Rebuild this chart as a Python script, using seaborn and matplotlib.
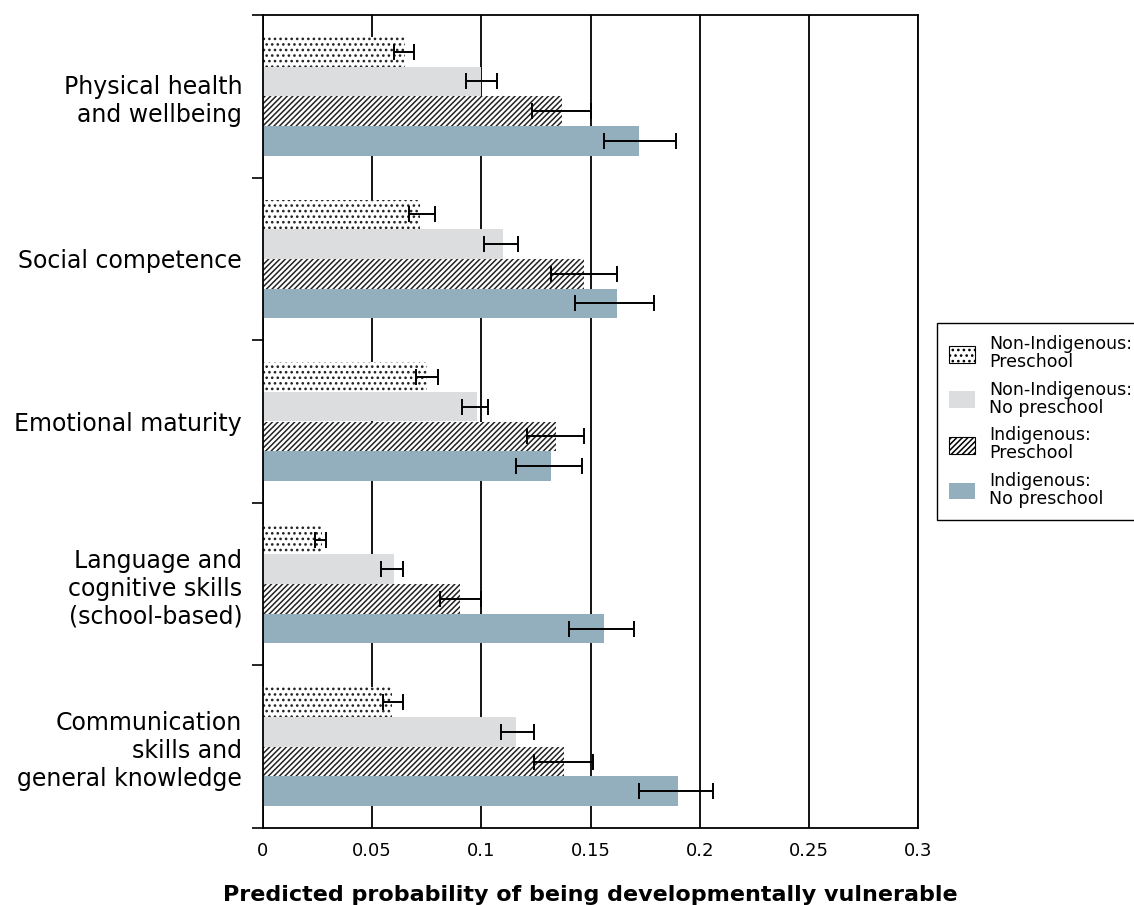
import numpy as np
import pandas as pd
import matplotlib
matplotlib.use("Agg")
import matplotlib.pyplot as plt
import seaborn as sns
from matplotlib.patches import Patch
from matplotlib.ticker import FixedLocator

# ---- data ----
dominios = [
    "Physical health\nand wellbeing",
    "Social competence",
    "Emotional maturity",
    "Language and\ncognitive skills\n(school-based)",
    "Communication\nskills and\ngeneral knowledge",
]
grupos = [
    "Non-Indigenous:\nPreschool",
    "Non-Indigenous:\nNo preschool",
    "Indigenous:\nPreschool",
    "Indigenous:\nNo preschool",
]

# predicted probability per domain, one list per group
nonindig_pre = [0.065, 0.072, 0.075, 0.027, 0.059]
nonindig_nopre = [0.100, 0.110, 0.098, 0.060, 0.116]
indig_pre = [0.137, 0.147, 0.134, 0.090, 0.138]
indig_nopre = [0.172, 0.162, 0.132, 0.156, 0.190]

# confidence interval bounds
nonindig_pre_lo = [0.060, 0.067, 0.070, 0.024, 0.055]
nonindig_pre_hi = [0.069, 0.079, 0.080, 0.029, 0.064]
nonindig_nopre_lo = [0.093, 0.101, 0.091, 0.054, 0.109]
nonindig_nopre_hi = [0.107, 0.117, 0.103, 0.064, 0.124]
indig_pre_lo = [0.123, 0.132, 0.121, 0.081, 0.124]
indig_pre_hi = [0.150, 0.162, 0.147, 0.100, 0.151]
indig_nopre_lo = [0.156, 0.143, 0.116, 0.140, 0.172]
indig_nopre_hi = [0.189, 0.179, 0.146, 0.170, 0.206]

valores = [nonindig_pre, nonindig_nopre, indig_pre, indig_nopre]
limites_inf = [nonindig_pre_lo, nonindig_nopre_lo, indig_pre_lo, indig_nopre_lo]
limites_sup = [nonindig_pre_hi, nonindig_nopre_hi, indig_pre_hi, indig_nopre_hi]

cores = ["white", "#DCDDDF", "white", "#93AFBE"]
hachuras = ["...", None, "//////", None]

# ---- long table for seaborn ----
linhas = []
for g, vals in zip(grupos, valores):
    for d, v in zip(dominios, vals):
        linhas.append({"Dominio": d, "Grupo": g, "Valor": v})
df = pd.DataFrame(linhas)

sns.set_style("white")
plt.rcParams["font.family"] = ["DejaVu Sans"]
plt.rcParams["hatch.linewidth"] = 1.1
plt.rcParams["text.color"] = "black"
plt.rcParams["xtick.color"] = "black"
plt.rcParams["ytick.color"] = "black"
plt.rcParams["axes.labelcolor"] = "black"

fig = plt.figure(figsize=(11.34, 9.05), dpi=100)
ax = fig.add_axes([263 / 1134, 1 - 828 / 905, (918 - 263) / 1134, (828 - 15) / 905])

sns.barplot(
    data=df, y="Dominio", x="Valor", hue="Grupo", orient="h",
    order=dominios, hue_order=grupos, palette=cores,
    width=0.73, errorbar=None, saturation=1, legend=False, ax=ax,
)

# hatches + error bars
barras = list(ax.containers)
for i, cont in enumerate(barras):
    for p in cont:
        if hachuras[i]:
            p.set_hatch(hachuras[i])
            p.set_edgecolor("#222222")
            p.set_linewidth(0)
        else:
            p.set_edgecolor("none")
    ys = [p.get_y() + p.get_height() / 2 for p in cont]
    xs = np.array(valores[i])
    xerr = [xs - np.array(limites_inf[i]), np.array(limites_sup[i]) - xs]
    ax.errorbar(xs, ys, xerr=xerr, fmt="none", ecolor="black",
                elinewidth=1.4, capsize=6, capthick=1.4, zorder=5)

# axes styling
ax.set_xlim(0, 0.3)
ax.set_ylim(len(dominios) - 0.5, -0.5)
ax.set_xticks([0, 0.05, 0.1, 0.15, 0.2, 0.25, 0.3])
ax.set_xticklabels(["0", "0.05", "0.1", "0.15", "0.2", "0.25", "0.3"])
ax.yaxis.set_minor_locator(FixedLocator(np.arange(-0.5, len(dominios), 1.0)))
ax.tick_params(axis="y", which="major", length=0, labelsize=17, pad=15)
ax.tick_params(axis="y", which="minor", length=8, width=1.2, color="black", direction="out", left=True)
ax.tick_params(axis="x", length=0, labelsize=13, pad=10)
for lab in ax.get_yticklabels():
    lab.set_multialignment("right")

ax.set_axisbelow(True)
ax.grid(axis="x", color="black", linewidth=1.3)
for s in ax.spines.values():
    s.set_color("black")
    s.set_linewidth(1.3)

ax.set_ylabel("")
ax.set_xlabel("Predicted probability of being developmentally vulnerable",
              fontsize=16, fontweight="bold", labelpad=18)

# legend
handles = []
for c, h in zip(cores, hachuras):
    if h:
        handles.append(Patch(facecolor=c, edgecolor="black", hatch=h, linewidth=0.8))
    else:
        handles.append(Patch(facecolor=c, edgecolor="none"))
leg = fig.legend(handles, grupos, loc="upper left", bbox_to_anchor=(937 / 1134, 1 - 323 / 905),
                 borderaxespad=0, fontsize=12.5, frameon=True, fancybox=False, edgecolor="black",
                 framealpha=1, handlelength=1.5, handleheight=1.1, labelspacing=0.55,
                 borderpad=0.7, handletextpad=0.8)
for t in leg.get_texts():
    t.set_linespacing(1.0)

fig.savefig("out.png", dpi=100)
